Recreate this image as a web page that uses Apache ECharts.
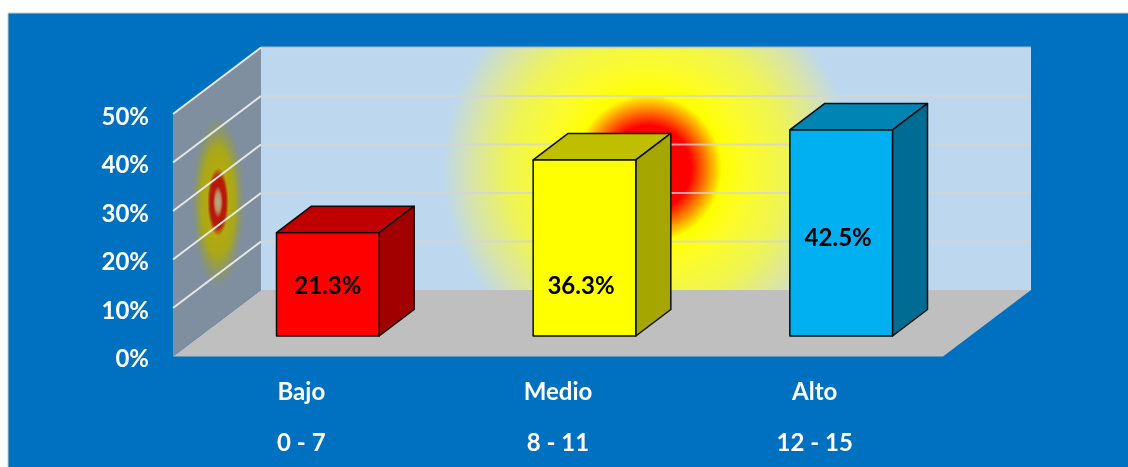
<!DOCTYPE html>
<html>
<head>
<meta charset="utf-8">
<style>
  html, body { margin: 0; padding: 0; background: #ffffff; }
  #chart { width: 1128px; height: 467px; }
</style>
<script src="https://cdn.jsdelivr.net/npm/echarts@6/dist/echarts.min.js"></script>
</head>
<body>
<div id="chart"></div>
<script>
// Nivel de puntaje por categoría
const niveles = ['Bajo', 'Medio', 'Alto'];
const rangos = ['0 - 7', '8 - 11', '12 - 15'];
const porcentajes = [21.3, 36.3, 42.5];
const marcasEje = [0, 10, 20, 30, 40, 50];

// Cabinet projection of the 3D box
const WALL_DEPTH = [88, -66.5];
const BAR_DEPTH = [35, -26.5];
const BAR_OFFSET = [26.5, -20.5];
const BAR_RATIO = 0.4;

const FACE_COLORS = [
  { front: '#ff0000', top: '#c00000', side: '#a00000' },
  { front: '#ffff00', top: '#bfbf00', side: '#a6a600' },
  { front: '#00b0f0', top: '#0084b4', side: '#006c94' }
];
// Where each value label sits relative to the centre of its front face
const LABEL_SHIFT = [[0, 2], [-3.5, 38.5], [-3, 5]];

const FONT = 'Lato, "Open Sans", sans-serif';

function poly(points, fill, extra) {
  return Object.assign({
    type: 'polygon',
    shape: { points },
    style: { fill, stroke: 'none' },
    silent: true
  }, extra || {});
}

function renderBox(params, api) {
  const idx = api.value(0);
  const value = api.value(1);
  const base = api.coord([idx, 0]);
  const tip = api.coord([idx, value]);
  const w = api.size([1, 0])[0] * BAR_RATIO;
  const x0 = base[0] + BAR_OFFSET[0] - w / 2;
  const x1 = x0 + w;
  const y0 = base[1] + BAR_OFFSET[1];
  const y1 = tip[1] + BAR_OFFSET[1];
  const dx = BAR_DEPTH[0];
  const dy = BAR_DEPTH[1];
  const c = FACE_COLORS[idx];
  const outline = { stroke: '#0c0c0c', lineWidth: 1.5, lineJoin: 'round' };
  const face = (pts, fill) => ({
    type: 'polygon',
    shape: { points: pts },
    style: Object.assign({ fill }, outline)
  });
  const shift = LABEL_SHIFT[idx];
  return {
    type: 'group',
    children: [
      face([[x0, y1], [x1, y1], [x1 + dx, y1 + dy], [x0 + dx, y1 + dy]], c.top),
      face([[x1, y0], [x1 + dx, y0 + dy], [x1 + dx, y1 + dy], [x1, y1]], c.side),
      face([[x0, y0], [x1, y0], [x1, y1], [x0, y1]], c.front),
      {
        type: 'text',
        x: (x0 + x1) / 2 + shift[0],
        y: (y0 + y1) / 2 + shift[1],
        style: {
          text: value.toFixed(1) + '%',
          fill: '#000000',
          font: 'bold 24px ' + FONT,
          textAlign: 'center',
          textVerticalAlign: 'middle'
        }
      }
    ]
  };
}

function renderRoom(params, api) {
  const rect = params.coordSys;
  const left = rect.x;
  const right = rect.x + rect.width;
  const y0 = api.coord([0, 0])[1];
  const yTop = api.coord([0, marcasEje[marcasEje.length - 1]])[1];
  const dx = WALL_DEPTH[0];
  const dy = WALL_DEPTH[1];
  const wallCx = left + dx + rect.width / 2 + 2;
  const wallCy = (y0 + yTop) / 2 + dy;
  const sideCx = left + dx / 2;
  const sideCy = (y0 + yTop) / 2 + dy / 2;

  const children = [];
  // Floor
  children.push(poly([[left, y0], [right, y0], [right + dx, y0 + dy], [left + dx, y0 + dy]], '#bfbfbf'));
  // Side wall
  children.push(poly([[left, y0], [left + dx, y0 + dy], [left + dx, yTop + dy], [left, yTop]], '#7f8fa0'));
  // Glow on the side wall, squeezed horizontally into an ellipse
  children.push({
    type: 'circle',
    x: sideCx + 1,
    y: sideCy,
    scaleX: 0.31,
    shape: { cx: 0, cy: 0, r: 90 },
    style: {
      fill: {
        type: 'radial', x: 0.5, y: 0.5, r: 0.5,
        colorStops: [
          { offset: 0, color: '#b8ab8c' },
          { offset: 0.1, color: '#bc8f68' },
          { offset: 0.18, color: '#b81808' },
          { offset: 0.28, color: '#b41c08' },
          { offset: 0.38, color: '#b4a810' },
          { offset: 0.6, color: '#a8a818' },
          { offset: 0.85, color: 'rgba(140,150,100,0.55)' },
          { offset: 1, color: 'rgba(127,143,160,0)' }
        ]
      }
    },
    silent: true
  });
  // Back wall with its radial glow
  children.push(poly([[left + dx, y0 + dy], [right + dx, y0 + dy], [right + dx, yTop + dy], [left + dx, yTop + dy]], {
    type: 'radial', x: wallCx, y: wallCy, r: 205,
    global: true,
    colorStops: [
      { offset: 0, color: '#ff0000' },
      { offset: 0.21, color: '#ff0000' },
      { offset: 0.36, color: '#ffff00' },
      { offset: 0.48, color: '#fcfc28' },
      { offset: 0.68, color: '#eef455' },
      { offset: 0.85, color: '#dae5a4' },
      { offset: 1, color: '#bdd7ee' }
    ]
  }));
  // Grid lines folding from the side wall onto the back wall
  marcasEje.forEach(function (v) {
    if (v === 0) return;
    const y = api.coord([0, v])[1];
    children.push({
      type: 'polyline',
      shape: { points: [[left, y], [left + dx, y + dy]] },
      style: { stroke: '#e8e8e8', lineWidth: 2, fill: 'none' },
      silent: true
    });
    children.push({
      type: 'line',
      shape: { x1: left + dx, y1: y + dy, x2: right + dx, y2: y + dy },
      style: { stroke: 'rgba(212,212,212,0.75)', lineWidth: 2 },
      silent: true
    });
  });
  return { type: 'group', children };
}

const chart = echarts.init(document.getElementById('chart'), null, { renderer: 'canvas' });

chart.setOption({
  animation: false,
  backgroundColor: '#ffffff',
  graphic: [{
    type: 'rect',
    z: -10,
    silent: true,
    shape: { x: 8, y: 13, width: 1130, height: 464 },
    style: { fill: '#0070c0', stroke: '#c8c8c8', lineWidth: 1 }
  }],
  grid: { left: 173, right: 185, top: 114, bottom: 110.5, containLabel: false, outerBoundsMode: 'none' },
  xAxis: {
    type: 'category',
    data: niveles,
    axisLine: { show: false },
    axisTick: { show: false },
    splitLine: { show: false },
    axisLabel: {
      color: '#ffffff',
      fontFamily: FONT,
      fontWeight: 'bold',
      fontSize: 24,
      lineHeight: 51,
      margin: 10,
      interval: 0,
      formatter: function (name, i) { return name + '\n' + rangos[i]; }
    }
  },
  yAxis: {
    type: 'value',
    min: 0,
    max: 50,
    interval: 10,
    axisLine: { show: false },
    axisTick: { show: false },
    splitLine: { show: false },
    axisLabel: {
      color: '#ffffff',
      fontFamily: FONT,
      fontWeight: 'bold',
      fontSize: 24,
      margin: 24,
      verticalAlign: 'top',
      lineHeight: 6,
      formatter: '{value}%'
    }
  },
  series: [
    {
      name: 'Sala',
      type: 'custom',
      z: 1,
      clip: false,
      silent: true,
      renderItem: renderRoom,
      data: [[0, 0]]
    },
    {
      name: 'Porcentaje',
      type: 'custom',
      z: 2,
      clip: false,
      silent: true,
      encode: { x: 0, y: 1 },
      renderItem: renderBox,
      data: porcentajes.map(function (p, i) { return [i, p]; })
    }
  ]
});
</script>
</body>
</html>
